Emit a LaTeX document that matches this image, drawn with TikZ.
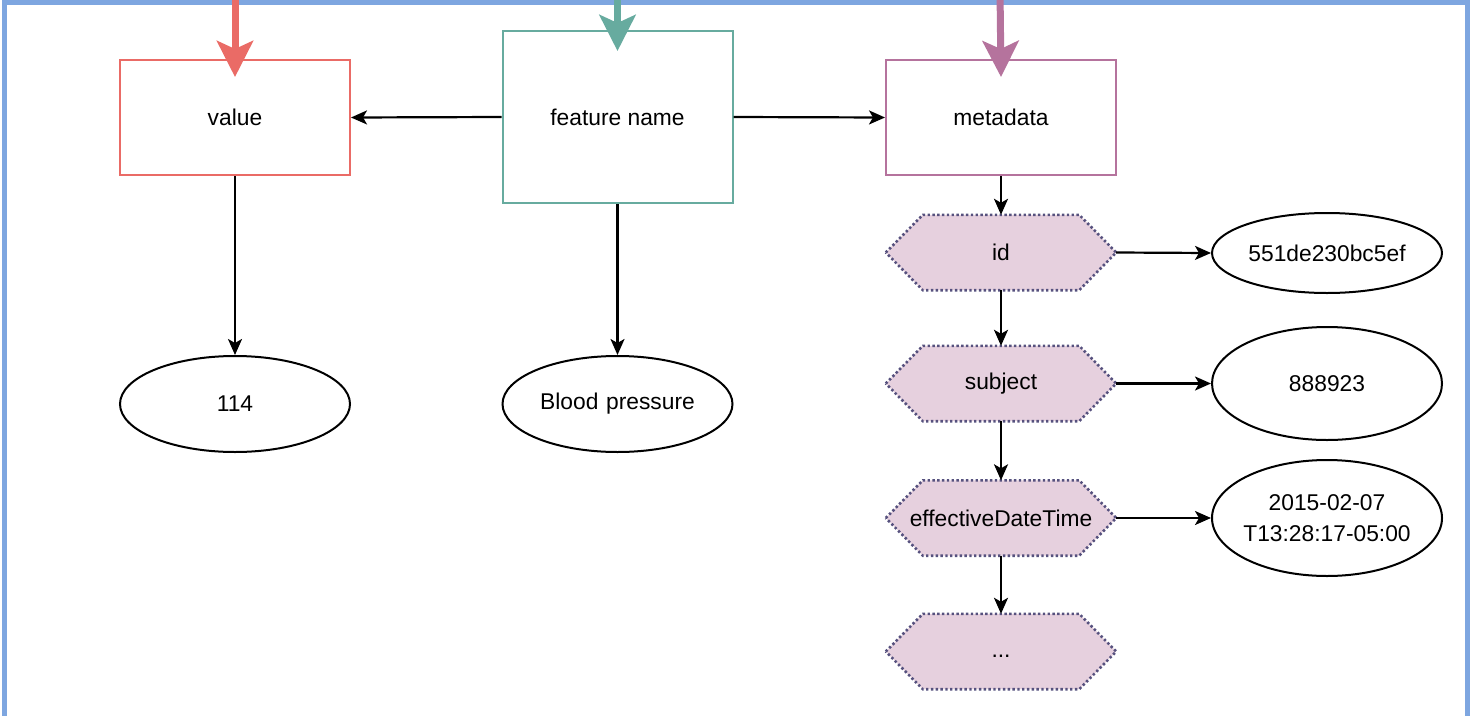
\documentclass[tikz,border=0pt]{standalone}
\usepackage{fontspec}
\setmainfont{Liberation Sans}
\usetikzlibrary{arrows.meta,shapes.geometric,backgrounds}

\definecolor{valred}{HTML}{EA6B66}
\definecolor{featteal}{HTML}{67AB9F}
\definecolor{metapurple}{HTML}{B5739D}
\definecolor{hexfill}{HTML}{E6D0DE}
\definecolor{hexline}{HTML}{56517E}
\definecolor{frameblue}{HTML}{7EA6E0}

\tikzset{
  lbl/.style={font=\fontsize{22.8}{31}\selectfont, align=center, text=black},
  box/.style={lbl, rectangle, draw=#1, line width=2pt, fill=white,
    minimum width=230pt, inner sep=0pt},
  oval/.style={lbl, ellipse, draw=black, line width=2pt, fill=white,
    minimum width=230pt, inner ysep=0pt, inner xsep=-16pt, text width=180pt},
  hexbox/.style={lbl, rectangle, minimum width=230pt, minimum height=75pt, inner sep=0pt},
  hexshape/.style={fill=hexfill, draw=hexline, line width=2.6pt,
    dash pattern=on 2.4pt off 2.4pt},
  conn/.style={draw=black, line width=2.2pt,
    -{Stealth[length=16pt,width=14pt,inset=4pt]}},
  feed/.style={draw=#1, line width=7pt,
    -{Stealth[length=36pt,width=36pt,inset=8pt]}},
  frameline/.style={draw=frameblue, line width=5pt},
}

\newcommand{\hexagonof}[1]{%
  \path[hexshape] (#1.west) -- ([xshift=37pt]#1.north west)
    -- ([xshift=-37pt]#1.north east) -- (#1.east)
    -- ([xshift=-37pt]#1.south east) -- ([xshift=37pt]#1.south west) -- cycle;}

\begin{document}
\begin{tikzpicture}[x=1pt,y=-1pt]
  \useasboundingbox (0,0) rectangle (1472,715);
  \clip (0,0) rectangle (1472,715);

  % outer frame (continues below the visible area)
  \draw[frameline] (4.5,2.5) rectangle (1467,760);

  % top-level boxes
  \node[box=valred, minimum height=115pt] (value) at (235,117.5) {value};
  \node[box=featteal, minimum height=172pt] (feat) at (617.5,117) {feature name};
  \node[box=metapurple, minimum height=115pt] (meta) at (1001,117.5) {metadata};

  % value nodes
  \node[oval, minimum height=96pt] (v114) at (235,404) {114};
  \node[oval, minimum height=96pt] (bp) at (617.5,404) {Blood pressure};

  % metadata fields
  \node[hexbox] (id) at (1001,252.5) {id};
  \node[hexbox] (subj) at (1001,383.5) {subject};
  \node[hexbox] (edt) at (1001,518) {effectiveDateTime};
  \node[hexbox] (more) at (1001,651.5) {\strut...};
  \begin{scope}[on background layer]
    \hexagonof{id}
    \hexagonof{subj}
    \hexagonof{edt}
    \hexagonof{more}
  \end{scope}

  \node[oval, minimum height=80pt] (idv) at (1327,253) {551de230bc5ef};
  \node[oval, minimum height=113pt] (subjv) at (1327,383.5) {888923};
  \node[oval, minimum height=116pt] (edtv) at (1327,518) {2015-02-07\\T13:28:17-05:00};

  % incoming feeds from above
  \coordinate (vin) at (235,-10);
  \coordinate (fin) at (617.5,-10);
  \coordinate (min) at (1000,-10);
  \draw[feed=valred] (vin) -- ([yshift=-18pt]value.north);
  \draw[feed=featteal] (fin) -- ([yshift=-21pt]feat.north);
  \draw[feed=metapurple] (min) -- ([yshift=-18pt]meta.north);

  % connectors
  \draw[conn] (feat.west) -- (value.east);
  \draw[conn] (feat.east) -- (meta.west);
  \draw[conn] (value.south) -- (v114.north);
  \draw[conn] (feat.south) -- (bp.north);
  \draw[conn] (meta.south) -- (id.north);
  \draw[conn] (id.south) -- (subj.north);
  \draw[conn] (subj.south) -- (edt.north);
  \draw[conn] (edt.south) -- (more.north);
  \draw[conn] (id.east) -- (idv.west);
  \draw[conn] (subj.east) -- (subjv.west);
  \draw[conn] (edt.east) -- (edtv.west);
\end{tikzpicture}
\end{document}
